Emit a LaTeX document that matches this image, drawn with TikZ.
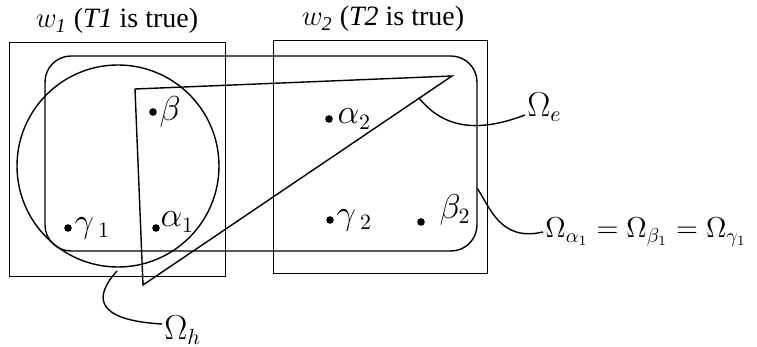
\documentclass[tikz,border=0pt]{standalone}
\usepackage{fontspec}
\setmainfont{Liberation Serif}
\usetikzlibrary{positioning}

\begin{document}
\begin{tikzpicture}[x=0.5pt, y=-0.5pt,
  marco/.style={draw, line width=0.5pt},
  linea/.style={line width=0.7pt},
  punto/.style={circle, fill, inner sep=0pt, minimum size=3.8pt},
  etq/.style={font=\fontsize{14}{16}\selectfont, inner sep=1pt},
  simb/.style={font=\fontsize{16}{18}\selectfont, inner sep=1pt}
]
\useasboundingbox (0,0) rectangle (757,347);
% worlds w1 and w2
\draw[marco] (9,43) rectangle (225,277);
\draw[marco] (273,41) rectangle (487,274);
\node[etq] (tit1) at (117,21) {$w_{\mathit{1}}$ (\textit{T1} is true)};
\node[etq] (tit2) at (383,19) {$w_{\mathit{2}}$ (\textit{T2} is true)};
% the three sets
\draw[linea, rounded corners=13pt] (45,56) rectangle (477,251);
\draw[linea] (118,166) circle (50.5pt);
\draw[linea] (135,89) -- (452,76) -- (143,285) -- cycle;
% points
\node[punto] (b) at (153,112) {};
\node[simb, right=0pt of b] {$\beta$};
\node[punto] (a2) at (329,119) {};
\node[simb, right=1pt of a2] {$\alpha_2$};
\node[punto] (g1) at (68,228) {};
\node[simb, right=0pt of g1] {$\gamma_{\;1}$};
\node[punto] (a1) at (156,228) {};
\node[simb, right=-1pt of a1, yshift=3pt] {$\alpha_1$};
\node[punto] (g2) at (330,220) {};
\node[simb, right=0pt of g2] {$\gamma_{\;2}$};
\node[punto] (b2) at (421,222) {};
\node[simb, right=6pt of b2, yshift=6pt] {$\beta_2$};
% labels of the sets
\node[simb, anchor=west] (OmE) at (525,107) {$\Omega_e$};
\node[simb, anchor=west] (OmH) at (162,330) {$\Omega_h$};
\node[etq, anchor=west] (OmA) at (543,232)
  {$\Omega_{\alpha_1}=\Omega_{\beta_1}=\Omega_{\gamma_1}$};
\coordinate (e0) at (419,98);
\coordinate (h0) at (117,271);
\coordinate (a0) at (477,188);
\draw[linea] (e0) .. controls (445,130) and (480,132) .. ([yshift=-4pt]OmE.west);
\draw[linea] (h0) .. controls (95,295) and (92,320) .. ([yshift=3pt]OmH.west);
\draw[linea] (a0) .. controls (490,207) and (500,242) .. (OmA.west);
\end{tikzpicture}
\end{document}
